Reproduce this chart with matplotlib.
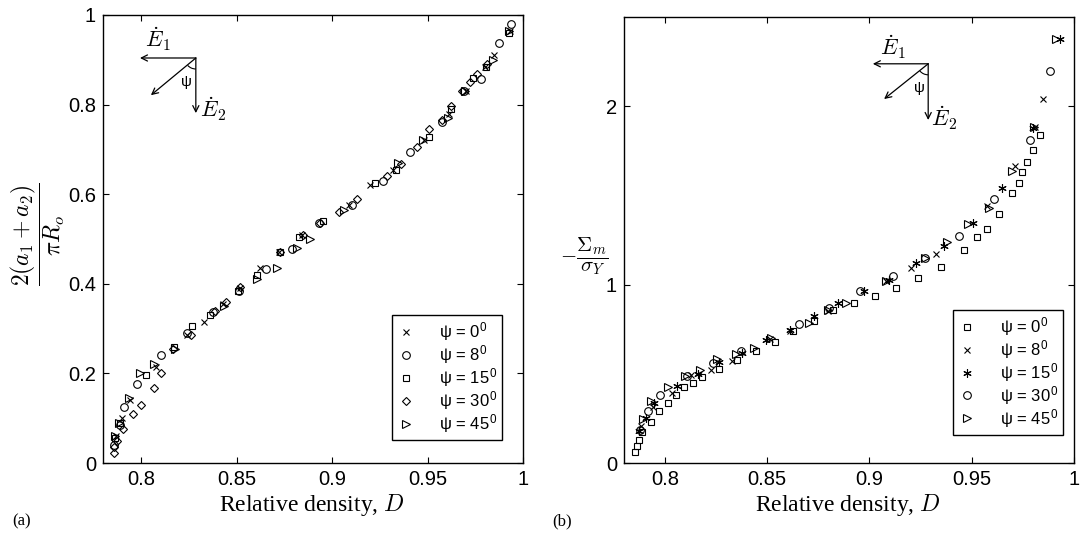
import numpy as np
import matplotlib
matplotlib.use("Agg")
import matplotlib.pyplot as plt
from matplotlib.patches import Arc

plt.rcParams["font.family"] = ["Liberation Sans", "DejaVu Sans"]
plt.rcParams["mathtext.fontset"] = "cm"
plt.rcParams["font.size"] = 14

# ---- data, panel (a): normalised crack length vs relative density ----
a_psi0_D = [0.787, 0.790, 0.794, 0.808, 0.824, 0.833, 0.843, 0.852, 0.862, 0.872,
            0.884, 0.909, 0.920, 0.932, 0.948, 0.961, 0.970, 0.980, 0.985, 0.993]
a_psi0_y = [0.06, 0.10, 0.14, 0.215, 0.285, 0.315, 0.355, 0.39, 0.435, 0.47,
            0.508, 0.575, 0.62, 0.655, 0.72, 0.78, 0.83, 0.885, 0.91, 0.965]
a_psi8_D = [0.786, 0.789, 0.791, 0.798, 0.8105, 0.824, 0.8375, 0.851, 0.8655, 0.879,
            0.893, 0.9105, 0.9265, 0.941, 0.9575, 0.969, 0.978, 0.9875, 0.9935]
a_psi8_y = [0.04, 0.085, 0.125, 0.177, 0.24, 0.29, 0.337, 0.385, 0.434, 0.478,
            0.535, 0.575, 0.63, 0.695, 0.762, 0.83, 0.857, 0.937, 0.98]
a_psi15_D = [0.7865, 0.789, 0.8025, 0.817, 0.8265, 0.836, 0.8505, 0.8605, 0.8725,
             0.8825, 0.895, 0.9225, 0.9335, 0.9505, 0.9625, 0.974, 0.9805, 0.9925]
a_psi15_y = [0.055, 0.09, 0.196, 0.258, 0.305, 0.33, 0.385, 0.42, 0.47,
             0.505, 0.54, 0.625, 0.655, 0.728, 0.79, 0.86, 0.885, 0.96]
a_psi30_D = [0.7855, 0.786, 0.7875, 0.7905, 0.7955, 0.800, 0.8065, 0.8105, 0.8165, 0.826,
             0.8385, 0.8445, 0.852, 0.8725, 0.885, 0.8935, 0.9035, 0.913, 0.929, 0.936,
             0.9445, 0.951, 0.9575, 0.9625, 0.968, 0.972, 0.976, 0.981]
a_psi30_y = [0.022, 0.035, 0.05, 0.075, 0.11, 0.13, 0.168, 0.20, 0.255, 0.285,
             0.34, 0.36, 0.393, 0.47, 0.51, 0.535, 0.56, 0.59, 0.64, 0.668,
             0.705, 0.745, 0.765, 0.796, 0.83, 0.85, 0.868, 0.89]
a_psi45_D = [0.7865, 0.7885, 0.7935, 0.7995, 0.8065, 0.8175, 0.8435, 0.8605, 0.871,
             0.8815, 0.8885, 0.906, 0.9345, 0.9475, 0.9605, 0.9695, 0.9845, 0.9925]
a_psi45_y = [0.06, 0.09, 0.145, 0.20, 0.22, 0.255, 0.35, 0.41, 0.435,
             0.48, 0.50, 0.565, 0.67, 0.72, 0.77, 0.83, 0.90, 0.965]

# ---- data, panel (b): normalised mean stress vs relative density ----
b_psi0_D = [0.7853, 0.7866, 0.7871, 0.789, 0.7931, 0.7972, 0.8013, 0.8054, 0.8095, 0.8136,
            0.8181, 0.8263, 0.8351, 0.8443, 0.8536, 0.8626, 0.8729, 0.8822, 0.8923, 0.9026,
            0.9132, 0.9239, 0.9348, 0.9462, 0.9525, 0.9577, 0.9631, 0.9696, 0.9729, 0.9745,
            0.977, 0.9799, 0.9832]
b_psi0_y = [0.06, 0.093, 0.127, 0.172, 0.228, 0.293, 0.336, 0.383, 0.424, 0.449,
            0.48, 0.527, 0.579, 0.626, 0.679, 0.738, 0.798, 0.856, 0.897, 0.938,
            0.983, 1.037, 1.099, 1.193, 1.265, 1.312, 1.393, 1.514, 1.57, 1.63,
            1.686, 1.757, 1.836]
b_psi8_D = [0.7882, 0.794, 0.8034, 0.8127, 0.8225, 0.8328, 0.8515, 0.8614, 0.8797,
            0.9083, 0.9201, 0.9325, 0.9574, 0.9712, 0.9807, 0.9848]
b_psi8_y = [0.207, 0.314, 0.393, 0.495, 0.523, 0.57, 0.695, 0.742, 0.85,
            1.019, 1.093, 1.17, 1.439, 1.664, 1.884, 2.043]
b_psi15_D = [0.7874, 0.7907, 0.7948, 0.8057, 0.8163, 0.8266, 0.8377, 0.8495, 0.8613, 0.8729,
             0.8846, 0.8972, 0.9096, 0.923, 0.9364, 0.9508, 0.9647, 0.9802, 0.993]
b_psi15_y = [0.178, 0.252, 0.336, 0.43, 0.501, 0.564, 0.617, 0.692, 0.748, 0.822,
             0.897, 0.966, 1.028, 1.121, 1.215, 1.346, 1.542, 1.879, 2.379]
b_psi30_D = [0.7876, 0.7915, 0.7975, 0.8106, 0.8237, 0.8373, 0.8658, 0.8802, 0.8953,
             0.9113, 0.9271, 0.9438, 0.961, 0.9783, 0.9881]
b_psi30_y = [0.187, 0.29, 0.381, 0.49, 0.561, 0.626, 0.781, 0.869, 0.966,
             1.05, 1.15, 1.271, 1.477, 1.813, 2.196]
b_psi45_D = [0.7894, 0.7931, 0.8013, 0.810, 0.8172, 0.8255, 0.8348, 0.8438, 0.852, 0.8703,
             0.8797, 0.8887, 0.9083, 0.9271, 0.938, 0.9483, 0.9586, 0.9696, 0.9806, 0.9913]
b_psi45_y = [0.247, 0.346, 0.426, 0.49, 0.523, 0.583, 0.613, 0.645, 0.701, 0.785,
             0.86, 0.897, 1.022, 1.15, 1.237, 1.342, 1.43, 1.636, 1.882, 2.379]

psi_labels = ["0", "8", "15", "30", "45"]
xticks = [0.8, 0.85, 0.9, 0.95, 1.0]
xtick_labels = ["0.8", "0.85", "0.9", "0.95", "1"]
a_yticks = [0, 0.2, 0.4, 0.6, 0.8, 1.0]
a_ytick_labels = ["0", "0.2", "0.4", "0.6", "0.8", "1"]
b_yticks = [0, 1, 2]
b_ytick_labels = ["0", "1", "2"]

fig = plt.figure(figsize=(10.82, 5.37), dpi=100)
ax1 = fig.add_axes([0.0952, 0.1378, 0.3882, 0.8343])
ax2 = fig.add_axes([0.5767, 0.1378, 0.4159, 0.8306])

mk = dict(linestyle="none", color="k", markerfacecolor="none", markeredgewidth=0.8)


def lab(p):
    return "\u03c8 = " + p + r"$^\mathregular{0}$"


a_series = [(a_psi0_D, a_psi0_y, "x", 4.5), (a_psi8_D, a_psi8_y, "o", 5.5),
            (a_psi15_D, a_psi15_y, "s", 4.5), (a_psi30_D, a_psi30_y, "D", 4.5),
            (a_psi45_D, a_psi45_y, ">", 5.5)]
for (d, y, m, s), p in zip(a_series, psi_labels):
    ax1.plot(d, y, marker=m, markersize=s, label=lab(p), **mk)

b_series = [(b_psi0_D, b_psi0_y, "s", 4.5), (b_psi8_D, b_psi8_y, "x", 4.5),
            (b_psi15_D, b_psi15_y, (6, 2, 0), 6), (b_psi30_D, b_psi30_y, "o", 5.5),
            (b_psi45_D, b_psi45_y, ">", 5.5)]
for (d, y, m, s), p in zip(b_series, psi_labels):
    ax2.plot(d, y, marker=m, markersize=s, label=lab(p), **mk)

for ax, yt, ytl, ylim in [(ax1, a_yticks, a_ytick_labels, (0, 1)),
                          (ax2, b_yticks, b_ytick_labels, (0, 2.5))]:
    ax.set_xlim(0.78, 1.0)
    ax.set_ylim(*ylim)
    ax.set_xticks(xticks)
    ax.set_xticklabels(xtick_labels)
    ax.set_yticks(yt)
    ax.set_yticklabels(ytl)
    ax.tick_params(direction="in", top=True, right=True, length=4, width=0.8,
                   labelsize=14.5, pad=5)
    for sp in ax.spines.values():
        sp.set_linewidth(1.0)

leg_kw = dict(loc="lower right", numpoints=1, fancybox=False, framealpha=1,
              edgecolor="k", fontsize=12, handlelength=1.0, handletextpad=1.5,
              labelspacing=0.0, borderpad=0.3, borderaxespad=0)
l1 = ax1.legend(bbox_to_anchor=(0.95, 0.051), **leg_kw)
l2 = ax2.legend(bbox_to_anchor=(0.976, 0.063), **leg_kw)
for l in (l1, l2):
    l.get_frame().set_linewidth(1.0)


def strain_sketch(ax, cx, cy, ex, ey, dx, dy, px, py, l1x, l1y, l2x, l2y, asp):
    arr = dict(arrowstyle="->", lw=0.9, color="k", shrinkA=0, shrinkB=0,
               mutation_scale=11)
    ax.annotate("", xy=(ex, cy), xytext=(cx, cy), xycoords="axes fraction",
                arrowprops=arr)
    ax.annotate("", xy=(cx, ey), xytext=(cx, cy), xycoords="axes fraction",
                arrowprops=arr)
    ax.annotate("", xy=(dx, dy), xytext=(cx, cy), xycoords="axes fraction",
                arrowprops=arr)
    ax.add_patch(Arc((cx, cy), 2 * 11 / asp[0], 2 * 11 / asp[1], theta1=220,
                     theta2=270, transform=ax.transAxes, lw=0.8, color="k"))
    ax.text(px, py, "\u03c8", transform=ax.transAxes, ha="center", va="center",
            fontsize=11)
    ax.text(l1x, l1y, r"$\dot{E}_1$", transform=ax.transAxes, ha="center",
            va="center", fontsize=16)
    ax.text(l2x, l2y, r"$\dot{E}_2$", transform=ax.transAxes, ha="center",
            va="center", fontsize=16)


strain_sketch(ax1, 0.221, 0.904, 0.088, 0.781, 0.114, 0.821, 0.198, 0.850,
              0.130, 0.945, 0.262, 0.790, (420, 448))
strain_sketch(ax2, 0.676, 0.895, 0.553, 0.769, 0.578, 0.816, 0.656, 0.841,
              0.598, 0.933, 0.712, 0.774, (450, 446))

# axis labels
fig.text(0.035, 1 - 234 / 537, r"$\dfrac{2(a_1+a_2)}{\pi R_o}$", rotation=90,
         ha="center", va="center", fontsize=17)
fig.text(0.540, 1 - 256 / 537, r"$-\dfrac{\Sigma_m}{\sigma_Y}$",
         ha="center", va="center", fontsize=15)
fig.text(312 / 1082, 1 - 505 / 537, r"Relative density, $D$", ha="center",
         va="center", fontsize=17, family="Liberation Serif")
fig.text(848 / 1082, 1 - 505 / 537, r"Relative density, $D$", ha="center",
         va="center", fontsize=17, family="Liberation Serif")
fig.text(22 / 1082, 1 - 521 / 537, "(a)", ha="center", va="center",
         fontsize=12, family="Liberation Serif")
fig.text(562 / 1082, 1 - 521 / 537, "(b)", ha="center", va="center",
         fontsize=12, family="Liberation Serif")

fig.savefig("out.png", dpi=100)
